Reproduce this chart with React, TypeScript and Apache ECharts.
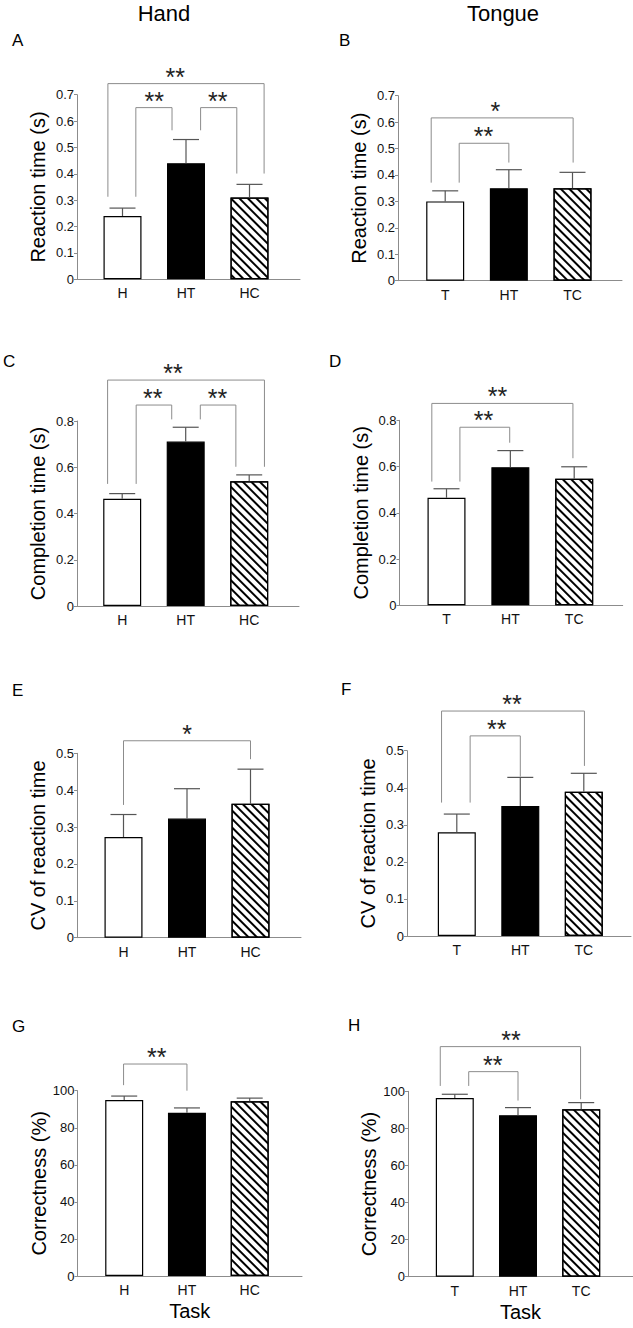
import React, { useEffect, useRef } from "react";
import * as echarts from "echarts";

const W = 633;
const H = 1328;
const FONT = '"Liberation Sans", Arial, Helvetica, sans-serif';

// ---------- categories ----------
const handCats = ["H", "HT", "HC"];
const tongueCats = ["T", "HT", "TC"];

// ---------- values (mean, SE) ----------
const rtHandMean = [0.24, 0.44, 0.31];
const rtHandErr = [0.03, 0.09, 0.05];
const rtTongueMean = [0.3, 0.35, 0.35];
const rtTongueErr = [0.04, 0.07, 0.06];

const ctHandMean = [0.464, 0.711, 0.539];
const ctHandErr = [0.022, 0.062, 0.028];
const ctTongueMean = [0.465, 0.597, 0.547];
const ctTongueErr = [0.039, 0.072, 0.052];

const cvHandMean = [0.273, 0.323, 0.363];
const cvHandErr = [0.061, 0.081, 0.094];
const cvTongueMean = [0.28, 0.351, 0.389];
const cvTongueErr = [0.049, 0.077, 0.05];

const corHandMean = [95.0, 88.1, 94.3];
const corHandErr = [2.1, 2.6, 1.7];
const corTongueMean = [96.4, 87.1, 90.3];
const corTongueErr = [2.0, 4.1, 3.6];

// ---------- significance brackets: [xLeft, xRight, yTop, yLeftEnd, yRightEnd, xLabel] ----------
const rtHandBrackets = [
  [0.77, 3.23, 0.742, 0.313, 0.401, 1.83],
  [1.21, 1.78, 0.651, 0.313, 0.565, 1.5],
  [2.23, 2.8, 0.651, 0.565, 0.401, 2.5],
];
const rtHandStars = ["**", "**", "**"];
const rtTongueBrackets = [
  [0.78, 3.01, 0.616, 0.371, 0.447, 1.79],
  [1.22, 2.0, 0.52, 0.371, 0.447, 1.6],
];
const rtTongueStars = ["*", "**"];

const ctHandBrackets = [
  [0.77, 3.24, 0.977, 0.528, 0.602, 1.8],
  [1.22, 1.78, 0.869, 0.528, 0.807, 1.48],
  [2.23, 2.79, 0.869, 0.807, 0.602, 2.5],
];
const ctHandStars = ["**", "**", "**"];
const ctTongueBrackets = [
  [0.77, 2.98, 0.873, 0.535, 0.636, 1.8],
  [1.21, 1.99, 0.77, 0.535, 0.703, 1.58],
];
const ctTongueStars = ["**", "**"];

const cvHandBrackets = [[1.0, 3.0, 0.534, 0.36, 0.484, 2.0]];
const cvHandStars = ["*"];
const cvTongueBrackets = [
  [0.76, 3.01, 0.607, 0.36, 0.459, 1.87],
  [1.21, 2.0, 0.54, 0.36, 0.43, 1.63],
];
const cvTongueStars = ["**", "**"];

const corHandBrackets = [[0.99, 2.0, 114.4, 103, 100, 1.52]];
const corHandStars = ["**"];
const corTongueBrackets = [
  [0.77, 2.99, 124.1, 102.9, 95.7, 1.89],
  [1.22, 2.0, 110.6, 102.9, 95.0, 1.6],
];
const corTongueStars = ["**", "**"];

// ---------- axis names / ranges ----------
const yNames = [
  "Reaction time (s)",
  "Reaction time (s)",
  "Completion time (s)",
  "Completion time (s)",
  "CV of reaction time",
  "CV of reaction time",
  "Correctness (%)",
  "Correctness (%)",
];
const yMaxes = [0.7, 0.7, 0.8, 0.8, 0.5, 0.5, 100, 100];
const yIntervals = [0.1, 0.1, 0.2, 0.2, 0.1, 0.1, 20, 20];
const panelLetters = ["A", "B", "C", "D", "E", "F", "G", "H"];
const columnTitles = ["Hand", "Tongue"];
const xAxisTitle = "Task";

// ---------- layout (pixels) ----------
const layouts = [
  { left: 77, top: 94.7, xEnd: 300, bottom: 279.3, c1: 122.5, sp: 63.5 },
  { left: 398, top: 95.7, xEnd: 622, bottom: 280.7, c1: 445.2, sp: 63.65 },
  { left: 77, top: 421, xEnd: 299, bottom: 606, c1: 122.2, sp: 63.5 },
  { left: 399.5, top: 420.3, xEnd: 622.7, bottom: 605.3, c1: 446.5, sp: 63.85 },
  { left: 77, top: 753.3, xEnd: 301, bottom: 937.7, c1: 123.5, sp: 63.5 },
  { left: 407, top: 750.7, xEnd: 631, bottom: 936, c1: 456.8, sp: 63.5 },
  { left: 77.5, top: 1090.7, xEnd: 302, bottom: 1276, c1: 124.2, sp: 62.75 },
  { left: 408, top: 1091.3, xEnd: 633, bottom: 1276.7, c1: 454.8, sp: 63.2 },
];
const letterPos = [
  [12, 42], [339, 42], [3, 363], [329, 363], [12, 692], [341, 691], [12, 1028], [348, 1027],
];
const titlePos = [[164, 13], [503, 13]];

const panels = [
  { cats: handCats, mean: rtHandMean, err: rtHandErr, br: rtHandBrackets, stars: rtHandStars },
  { cats: tongueCats, mean: rtTongueMean, err: rtTongueErr, br: rtTongueBrackets, stars: rtTongueStars },
  { cats: handCats, mean: ctHandMean, err: ctHandErr, br: ctHandBrackets, stars: ctHandStars },
  { cats: tongueCats, mean: ctTongueMean, err: ctTongueErr, br: ctTongueBrackets, stars: ctTongueStars },
  { cats: handCats, mean: cvHandMean, err: cvHandErr, br: cvHandBrackets, stars: cvHandStars },
  { cats: tongueCats, mean: cvTongueMean, err: cvTongueErr, br: cvTongueBrackets, stars: cvTongueStars },
  { cats: handCats, mean: corHandMean, err: corHandErr, br: corHandBrackets, stars: corHandStars },
  { cats: tongueCats, mean: corTongueMean, err: corTongueErr, br: corTongueBrackets, stars: corTongueStars },
];

const AXIS_COLOR = "#8c8c8c";
const BRACKET_COLOR = "#8c8c8c";
const ERR_COLOR = "#555";

const hatchDecal = {
  symbol: "rect",
  symbolSize: 1,
  dashArrayX: [1, 0],
  dashArrayY: [1.1, 3.7],
  rotation: Math.PI / 4,
  color: "#000",
  backgroundColor: "#fff",
};

const barStyles = [
  { color: "#fff", borderColor: "#000", borderWidth: 1.2 },
  { color: "#000", borderColor: "#000", borderWidth: 1.2 },
  { color: "#fff", borderColor: "#000", borderWidth: 1.2, decal: hatchDecal },
];

export default function App() {
  const ref = useRef<HTMLDivElement>(null);

  useEffect(() => {
    if (!ref.current) return;
    const chart = echarts.init(ref.current, null, { renderer: "svg", width: W, height: H });

    const grid: any[] = [];
    const xAxis: any[] = [];
    const yAxis: any[] = [];
    const series: any[] = [];
    const graphic: any[] = [];

    panels.forEach((p, i) => {
      const L = layouts[i];
      grid.push({
        left: L.left,
        top: L.top,
        width: L.xEnd - L.left,
        height: L.bottom - L.top,
        containLabel: false,
        outerBoundsMode: "none",
      });
      xAxis.push({
        gridIndex: i,
        type: "value",
        min: 1 - (L.c1 - L.left) / L.sp,
        max: 1 + (L.xEnd - L.c1) / L.sp,
        axisLine: { show: true, onZero: false, lineStyle: { color: AXIS_COLOR, width: 1 } },
        axisTick: { show: false },
        splitLine: { show: false },
        axisLabel: {
          customValues: [1, 2, 3],
          formatter: (v: number) => p.cats[Math.round(v) - 1] ?? "",
          fontSize: 14,
          color: "#111",
          margin: 7,
          fontFamily: FONT,
        },
        name: i >= 6 ? xAxisTitle : "",
        nameLocation: "middle",
        nameGap: 25,
        nameTextStyle: { fontSize: 20, color: "#000", fontFamily: FONT },
      });
      yAxis.push({
        gridIndex: i,
        type: "value",
        min: 0,
        max: yMaxes[i],
        interval: yIntervals[i],
        axisLine: { show: true, onZero: false, lineStyle: { color: AXIS_COLOR, width: 1 } },
        axisTick: { show: true, inside: false, length: 3, lineStyle: { color: AXIS_COLOR } },
        splitLine: { show: false },
        axisLabel: { fontSize: 13, color: "#111", margin: 3, fontFamily: FONT },
        name: yNames[i],
        nameLocation: "middle",
        nameGap: 29,
        nameTextStyle: { fontSize: 20, color: "#000", fontFamily: FONT },
      });

      // bars
      series.push({
        type: "bar",
        xAxisIndex: i,
        yAxisIndex: i,
        barWidth: 38,
        z: 2,
        data: p.mean.map((v, j) => ({ value: [j + 1, v], itemStyle: barStyles[j] })),
      });

      // error bars
      series.push({
        type: "custom",
        xAxisIndex: i,
        yAxisIndex: i,
        z: 3,
        data: p.mean.map((v, j) => [j + 1, v, v + p.err[j]]),
        renderItem: (params: any, api: any) => {
          const x = api.value(0);
          const lo = api.coord([x, api.value(1)]);
          const hi = api.coord([x, api.value(2)]);
          const st = { stroke: ERR_COLOR, lineWidth: 1.2 };
          return {
            type: "group",
            children: [
              { type: "line", shape: { x1: lo[0], y1: lo[1], x2: hi[0], y2: hi[1] }, style: st },
              { type: "line", shape: { x1: hi[0] - 13, y1: hi[1], x2: hi[0] + 13, y2: hi[1] }, style: st },
            ],
          };
        },
      });

      // significance brackets
      series.push({
        type: "custom",
        xAxisIndex: i,
        yAxisIndex: i,
        z: 4,
        clip: false,
        data: p.br,
        renderItem: (params: any, api: any) => {
          const x1 = api.value(0);
          const x2 = api.value(1);
          const yT = api.value(2);
          const yL = api.value(3);
          const yR = api.value(4);
          const xl = api.value(5);
          const a = api.coord([x1, yL]);
          const b = api.coord([x1, yT]);
          const c = api.coord([x2, yT]);
          const d = api.coord([x2, yR]);
          const t = api.coord([xl, yT]);
          return {
            type: "group",
            children: [
              {
                type: "polyline",
                shape: { points: [a, b, c, d] },
                style: { stroke: BRACKET_COLOR, fill: "none", lineWidth: 1 },
              },
              {
                type: "text",
                x: t[0],
                y: t[1] - 7,
                style: {
                  text: p.stars[params.dataIndex],
                  fontSize: 25,
                  fontFamily: FONT,
                  fill: "#222",
                  align: "center",
                  verticalAlign: "middle",
                },
              },
            ],
          };
        },
      });

      graphic.push({
        type: "text",
        left: letterPos[i][0],
        top: letterPos[i][1] - 10,
        style: { text: panelLetters[i], fontSize: 17, fontFamily: FONT, fill: "#000" },
      });
    });

    columnTitles.forEach((t, k) => {
      graphic.push({
        type: "text",
        x: titlePos[k][0],
        y: titlePos[k][1],
        style: {
          text: t,
          fontSize: 22,
          fontFamily: FONT,
          fill: "#000",
          align: "center",
          verticalAlign: "middle",
        },
      });
    });

    chart.setOption({
      animation: false,
      backgroundColor: "#fff",
      textStyle: { fontFamily: FONT },
      grid,
      xAxis,
      yAxis,
      series,
      graphic,
    });

    return () => {
      chart.dispose();
    };
  }, []);

  return (
    <div
      ref={ref}
      style={{ position: "absolute", left: 0, top: 0, width: W, height: H, background: "#fff" }}
    />
  );
}
